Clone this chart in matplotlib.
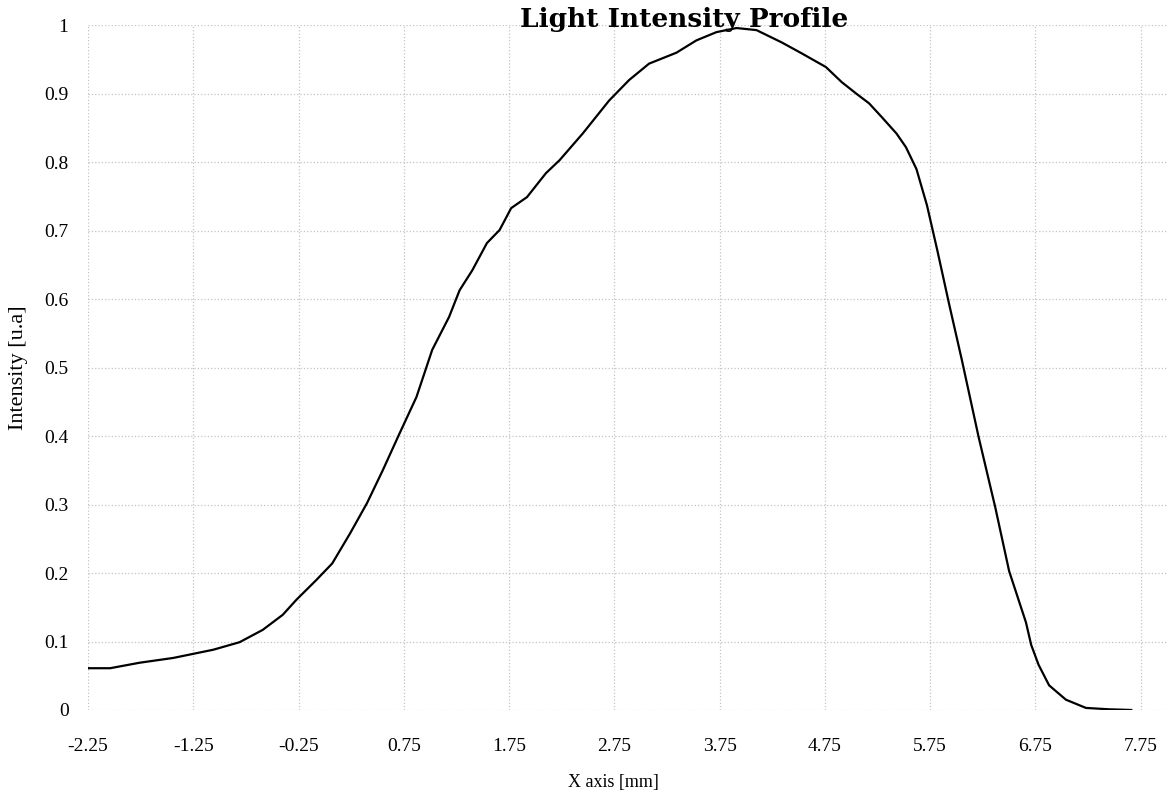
import matplotlib.pyplot as plt

# Perfil de intensidad
x_mm = [-2.25, -2.04, -1.76, -1.44, -1.06, -0.81, -0.59, -0.40, -0.27, -0.08,
        0.07, 0.24, 0.40, 0.55, 0.71, 0.87, 1.02, 1.18, 1.28, 1.40,
        1.54, 1.66, 1.77, 1.92, 2.10, 2.23, 2.45, 2.70, 2.89, 3.08,
        3.34, 3.53, 3.72, 3.91, 4.10, 4.34, 4.53, 4.76, 4.91, 5.05,
        5.17, 5.29, 5.43, 5.52, 5.62, 5.72, 5.82, 5.93, 6.05, 6.21,
        6.37, 6.50, 6.66, 6.71, 6.78, 6.88, 7.04, 7.23, 7.45, 7.66]
intensidad = [0.061, 0.061, 0.069, 0.076, 0.088, 0.099, 0.117, 0.139, 0.161, 0.190,
              0.214, 0.258, 0.302, 0.350, 0.404, 0.457, 0.526, 0.574, 0.613, 0.642,
              0.682, 0.701, 0.733, 0.749, 0.784, 0.803, 0.842, 0.890, 0.920, 0.944,
              0.960, 0.978, 0.990, 0.996, 0.993, 0.975, 0.959, 0.939, 0.917, 0.900,
              0.886, 0.866, 0.842, 0.822, 0.790, 0.737, 0.670, 0.593, 0.512, 0.399,
              0.295, 0.203, 0.128, 0.095, 0.066, 0.036, 0.015, 0.003, 0.001, 0.000]

x_ticks = [-2.25, -1.25, -0.25, 0.75, 1.75, 2.75, 3.75, 4.75, 5.75, 6.75, 7.75]
y_ticks = [0, 0.1, 0.2, 0.3, 0.4, 0.5, 0.6, 0.7, 0.8, 0.9, 1]
y_labels = ['0', '0.1', '0.2', '0.3', '0.4', '0.5', '0.6', '0.7', '0.8', '0.9', '1']

plt.rcParams['font.family'] = ['Liberation Serif', 'DejaVu Serif']

fig = plt.figure(figsize=(11.67, 7.98), dpi=100)
ax = fig.add_axes([0.0754, 0.1103, 0.9246, 0.858])

ax.plot(x_mm, intensidad, color='black', linewidth=1.6)

ax.set_xlim(-2.25, 8.0)
ax.set_ylim(0, 1)
ax.set_xticks(x_ticks)
ax.set_xticklabels([f"{t:.2f}" for t in x_ticks])
ax.set_yticks(y_ticks)
ax.set_yticklabels(y_labels)
ax.tick_params(axis='both', length=0, labelsize=14)
ax.tick_params(axis='x', pad=20)
ax.tick_params(axis='y', pad=14)

for s in ax.spines.values():
    s.set_visible(False)

# rejilla tenue punteada
ax.grid(True, linestyle=':', color='#c4c4c4', linewidth=0.9)

ax.set_xlabel("X axis [mm]", fontsize=13)
ax.xaxis.set_label_coords(0.4866, -0.094)
ax.set_ylabel("Intensity [u.a]", fontsize=16)
ax.yaxis.set_label_coords(-0.0556, 0.5)

fig.text(0.586, 0.975, "Light Intensity Profile", fontsize=19, fontweight='bold',
         family=['DejaVu Serif'], ha='center', va='center')

plt.savefig("out.png", dpi=100)
plt.close()
